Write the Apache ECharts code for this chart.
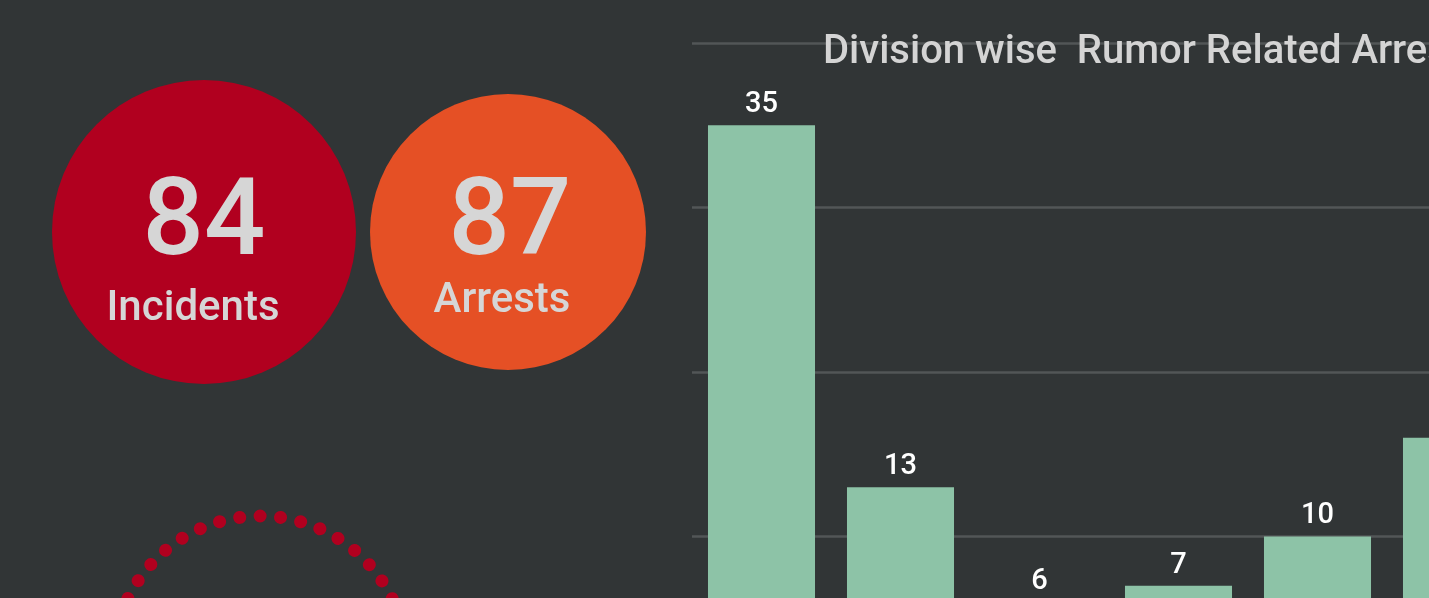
<!DOCTYPE html>
<html>
<head>
<meta charset="utf-8">
<script src="https://cdn.jsdelivr.net/npm/echarts@6/dist/echarts.min.js"></script>
<style>
html, body {
  margin: 0;
  padding: 0;
  width: 1429px;
  height: 598px;
  overflow: hidden;
  background: #313536;
}
#board {
  width: 1600px;
  height: 760px;
}
</style>
</head>
<body>
<div id="board"></div>
<script>
// kpi tiles
var kpiValues = [84, 87]
var kpiNames = ['Incidents', 'Arrests']

// division chart
var divisions = ['Division 1', 'Division 2', 'Division 3', 'Division 4', 'Division 5', 'Division 6']
var arrests = [35, 13, 6, 7, 10, 16]
var chartTitle = 'Division wise  Rumor Related Arrests'

var board = echarts.init(document.getElementById('board'))

var option = {
  backgroundColor: '#313536',
  textStyle: { fontFamily: 'Roboto' },
  title: {
    text: chartTitle,
    left: 818,
    top: 28,
    textStyle: { color: '#d4d4d4', fontSize: 40, fontWeight: 500, fontFamily: 'Roboto' }
  },
  grid: {
    left: 692,
    top: 43,
    width: 834,
    height: 658
  },
  xAxis: {
    type: 'category',
    data: divisions,
    axisLine: { show: false },
    axisTick: { show: false },
    axisLabel: { show: false }
  },
  yAxis: {
    type: 'value',
    min: 0,
    max: 40,
    interval: 10,
    axisLabel: { show: false },
    axisLine: { show: false },
    splitLine: { lineStyle: { color: '#525657', width: 2.5 } }
  },
  graphic: [
    // dotted ring at the bottom left
    {
      type: 'circle',
      shape: { cx: 260, cy: 663, r: 147 },
      style: {
        fill: null,
        stroke: '#b1001f',
        lineWidth: 13,
        lineCap: 'round',
        lineDash: [0.01, 20.51],
        lineDashOffset: 5.13
      },
      silent: true
    },
    {
      type: 'circle',
      shape: { cx: 204, cy: 232, r: 152 },
      style: { fill: '#b1001f' },
      silent: true
    },
    {
      type: 'circle',
      shape: { cx: 508, cy: 232, r: 138 },
      style: { fill: '#e55025' },
      silent: true
    },
    {
      type: 'text',
      x: 204,
      y: 227,
      style: {
        text: String(kpiValues[0]),
        fill: '#d6d6d6',
        font: '500 108px Roboto',
        align: 'center',
        verticalAlign: 'middle'
      },
      silent: true
    },
    {
      type: 'text',
      x: 193,
      y: 309,
      style: {
        text: kpiNames[0],
        fill: '#d6d6d6',
        font: '500 42px Roboto',
        align: 'center',
        verticalAlign: 'middle'
      },
      silent: true
    },
    {
      type: 'text',
      x: 510,
      y: 227,
      style: {
        text: String(kpiValues[1]),
        fill: '#d6d6d6',
        font: '500 108px Roboto',
        align: 'center',
        verticalAlign: 'middle'
      },
      silent: true
    },
    {
      type: 'text',
      x: 502,
      y: 301,
      style: {
        text: kpiNames[1],
        fill: '#d6d6d6',
        font: '500 42px Roboto',
        align: 'center',
        verticalAlign: 'middle'
      },
      silent: true
    }
  ],
  series: [
    {
      name: 'Arrests',
      type: 'bar',
      data: arrests,
      barCategoryGap: '23%',
      itemStyle: { color: '#8dc3a7' },
      label: {
        show: true,
        position: 'top',
        distance: 6,
        color: '#ffffff',
        fontSize: 29,
        fontWeight: 500,
        fontFamily: 'Roboto'
      },
      silent: true
    }
  ]
}

board.setOption(option)
</script>
</body>
</html>
